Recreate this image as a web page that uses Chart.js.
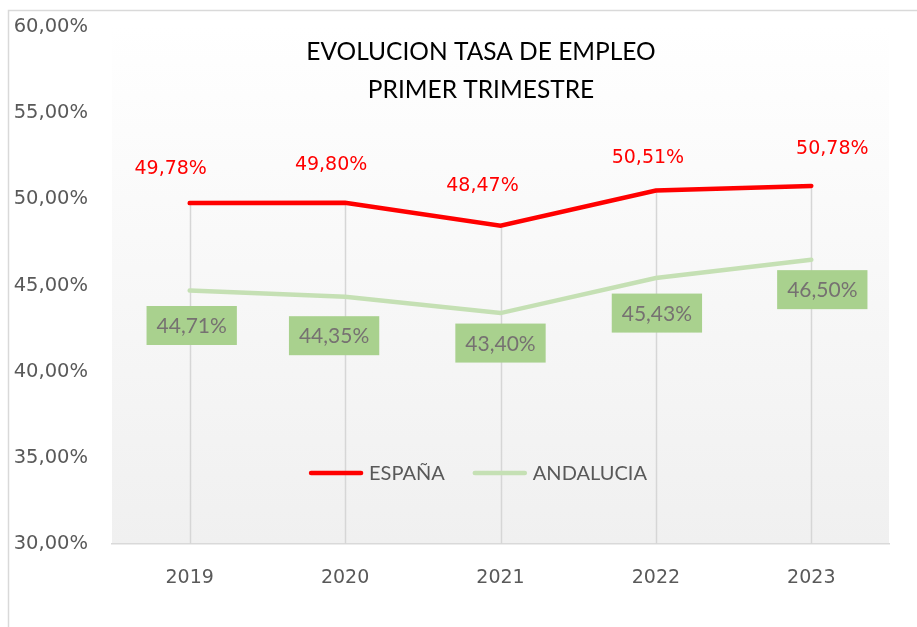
<!DOCTYPE html>
<html>
<head>
<meta charset="utf-8">
<script src="https://cdn.jsdelivr.net/npm/chart.js@4/dist/chart.umd.min.js"></script>
<style>
  html, body { margin: 0; padding: 0; background: #fff; }
  #wrap { position: relative; width: 917px; height: 627px; }
</style>
</head>
<body>
<div id="wrap"><canvas id="chart" width="917" height="627"></canvas></div>
<script>
const years = ["2019", "2020", "2021", "2022", "2023"];
const espana = [49.78, 49.80, 48.47, 50.51, 50.78];
const andalucia = [44.71, 44.35, 43.40, 45.43, 46.50];
const titleLines = ["EVOLUCION TASA DE EMPLEO", "PRIMER TRIMESTRE"];
const yMin = 30, yMax = 60, yStep = 5;

// hand-placed label nudges (px) as in the original chart
const espNudgeX = [-19, -14, -18, -8, 21];
const espNudgeY = [-34, -38, -40, -32, -37];
const andNudgeX = [2, -11, 0, 1, 11];
const andNudgeY = [35, 39, 30, 35, 30];

const fmt = (v) => v.toFixed(2).replace(".", ",") + "%";

// background, border and drop lines
const backdrop = {
  id: "backdrop",
  beforeDraw: (chart) => {
    const { ctx, chartArea: a } = chart;
    ctx.save();
    const g = ctx.createLinearGradient(0, a.top, 0, a.bottom);
    g.addColorStop(0, "#ffffff");
    g.addColorStop(1, "#f0f0f0");
    ctx.fillStyle = g;
    ctx.fillRect(a.left, a.top, a.right - a.left, a.bottom - a.top);
    ctx.strokeStyle = "#d9d9d9";
    ctx.lineWidth = 1.5;
    ctx.beginPath();
    ctx.moveTo(8.5, chart.height);
    ctx.lineTo(8.5, 10.5);
    ctx.lineTo(chart.width, 10.5);
    ctx.stroke();
    ctx.restore();
  },
  beforeDatasetsDraw: (chart) => {
    const { ctx, chartArea: a } = chart;
    const y = chart.scales.y;
    const x = chart.scales.x;
    ctx.save();
    ctx.strokeStyle = "#d6d6d6";
    ctx.lineWidth = 1.5;
    years.forEach((yr, i) => {
      const top = Math.max(espana[i], andalucia[i]);
      const px = Math.round(x.getPixelForValue(i)) + 0.5;
      ctx.beginPath();
      ctx.moveTo(px, y.getPixelForValue(top));
      ctx.lineTo(px, a.bottom);
      ctx.stroke();
    });
    ctx.restore();
  },
};

// title, value labels and legend
const overlay = {
  id: "overlay",
  afterDatasetsDraw: (chart) => {
    const { ctx } = chart;
    ctx.save();
    ctx.textAlign = "center";
    ctx.textBaseline = "middle";

    ctx.fillStyle = "#000";
    ctx.font = "24.5px Lato";
    ctx.fillText(titleLines[0], 481, 52);
    ctx.fillText(titleLines[1], 481, 90);

    const m0 = chart.getDatasetMeta(0);
    ctx.font = "19px 'DejaVu Sans'";
    ctx.fillStyle = "#ff0000";
    m0.data.forEach((p, i) => {
      ctx.fillText(fmt(espana[i]), p.x + espNudgeX[i], p.y + espNudgeY[i]);
    });

    const m1 = chart.getDatasetMeta(1);
    ctx.font = "21px Lato";
    m1.data.forEach((p, i) => {
      const t = fmt(andalucia[i]);
      const w = ctx.measureText(t).width + 20;
      const cx = p.x + andNudgeX[i];
      const cy = p.y + andNudgeY[i];
      ctx.fillStyle = "#a9d18e";
      ctx.fillRect(cx - w / 2, cy - 19.5, w, 39);
      ctx.fillStyle = "#767171";
      ctx.fillText(t, cx, cy + 1);
    });

    // legend
    const items = chart.data.datasets.map((d) => ({ label: d.label, color: d.borderColor }));
    ctx.font = "20px Lato";
    const seg = 54, gap = 6, between = 28;
    let total = 0;
    items.forEach((it, i) => {
      total += seg + gap + ctx.measureText(it.label).width + (i < items.length - 1 ? between : 0);
    });
    let lx = 478 - total / 2;
    const ly = 473;
    ctx.textAlign = "left";
    items.forEach((it) => {
      ctx.strokeStyle = it.color;
      ctx.lineWidth = 4.5;
      ctx.lineCap = "round";
      ctx.beginPath();
      ctx.moveTo(lx + 2, ly);
      ctx.lineTo(lx + seg - 2, ly);
      ctx.stroke();
      lx += seg + gap;
      ctx.fillStyle = "#595959";
      ctx.fillText(it.label, lx, ly + 1);
      lx += ctx.measureText(it.label).width + between;
    });
    ctx.restore();
  },
};

new Chart(document.getElementById("chart"), {
  type: "line",
  data: {
    labels: years,
    datasets: [
      {
        label: "ESPAÑA",
        data: espana,
        borderColor: "#ff0000",
        borderWidth: 4.5,
        pointRadius: 0,
        tension: 0,
        borderCapStyle: "round",
      },
      {
        label: "ANDALUCIA",
        data: andalucia,
        borderColor: "#c5e0b4",
        borderWidth: 4.5,
        pointRadius: 0,
        tension: 0,
        borderCapStyle: "round",
      },
    ],
  },
  options: {
    responsive: false,
    animation: false,
    layout: { padding: { top: 27, right: 28, left: 0, bottom: 0 } },
    plugins: {
      legend: { display: false },
      title: { display: false },
      tooltip: { enabled: false },
    },
    scales: {
      x: {
        offset: true,
        grid: { display: false, drawTicks: false },
        border: { display: true, color: "#d9d9d9", width: 1.5 },
        ticks: {
          color: "#595959",
          font: { family: "DejaVu Sans", size: 19 },
          padding: 23,
        },
        afterFit: (s) => { s.height = 83; s.paddingLeft = 0; s.paddingRight = 0; },
      },
      y: {
        min: yMin,
        max: yMax,
        grid: { display: false, drawTicks: false },
        border: { display: false },
        ticks: {
          stepSize: yStep,
          color: "#595959",
          font: { family: "DejaVu Sans", size: 19.5 },
          padding: 24,
          callback: (v) => fmt(v),
        },
        afterFit: (s) => { s.width = 112; s.paddingTop = 0; s.paddingBottom = 0; },
      },
    },
  },
  plugins: [backdrop, overlay],
});
</script>
</body>
</html>
